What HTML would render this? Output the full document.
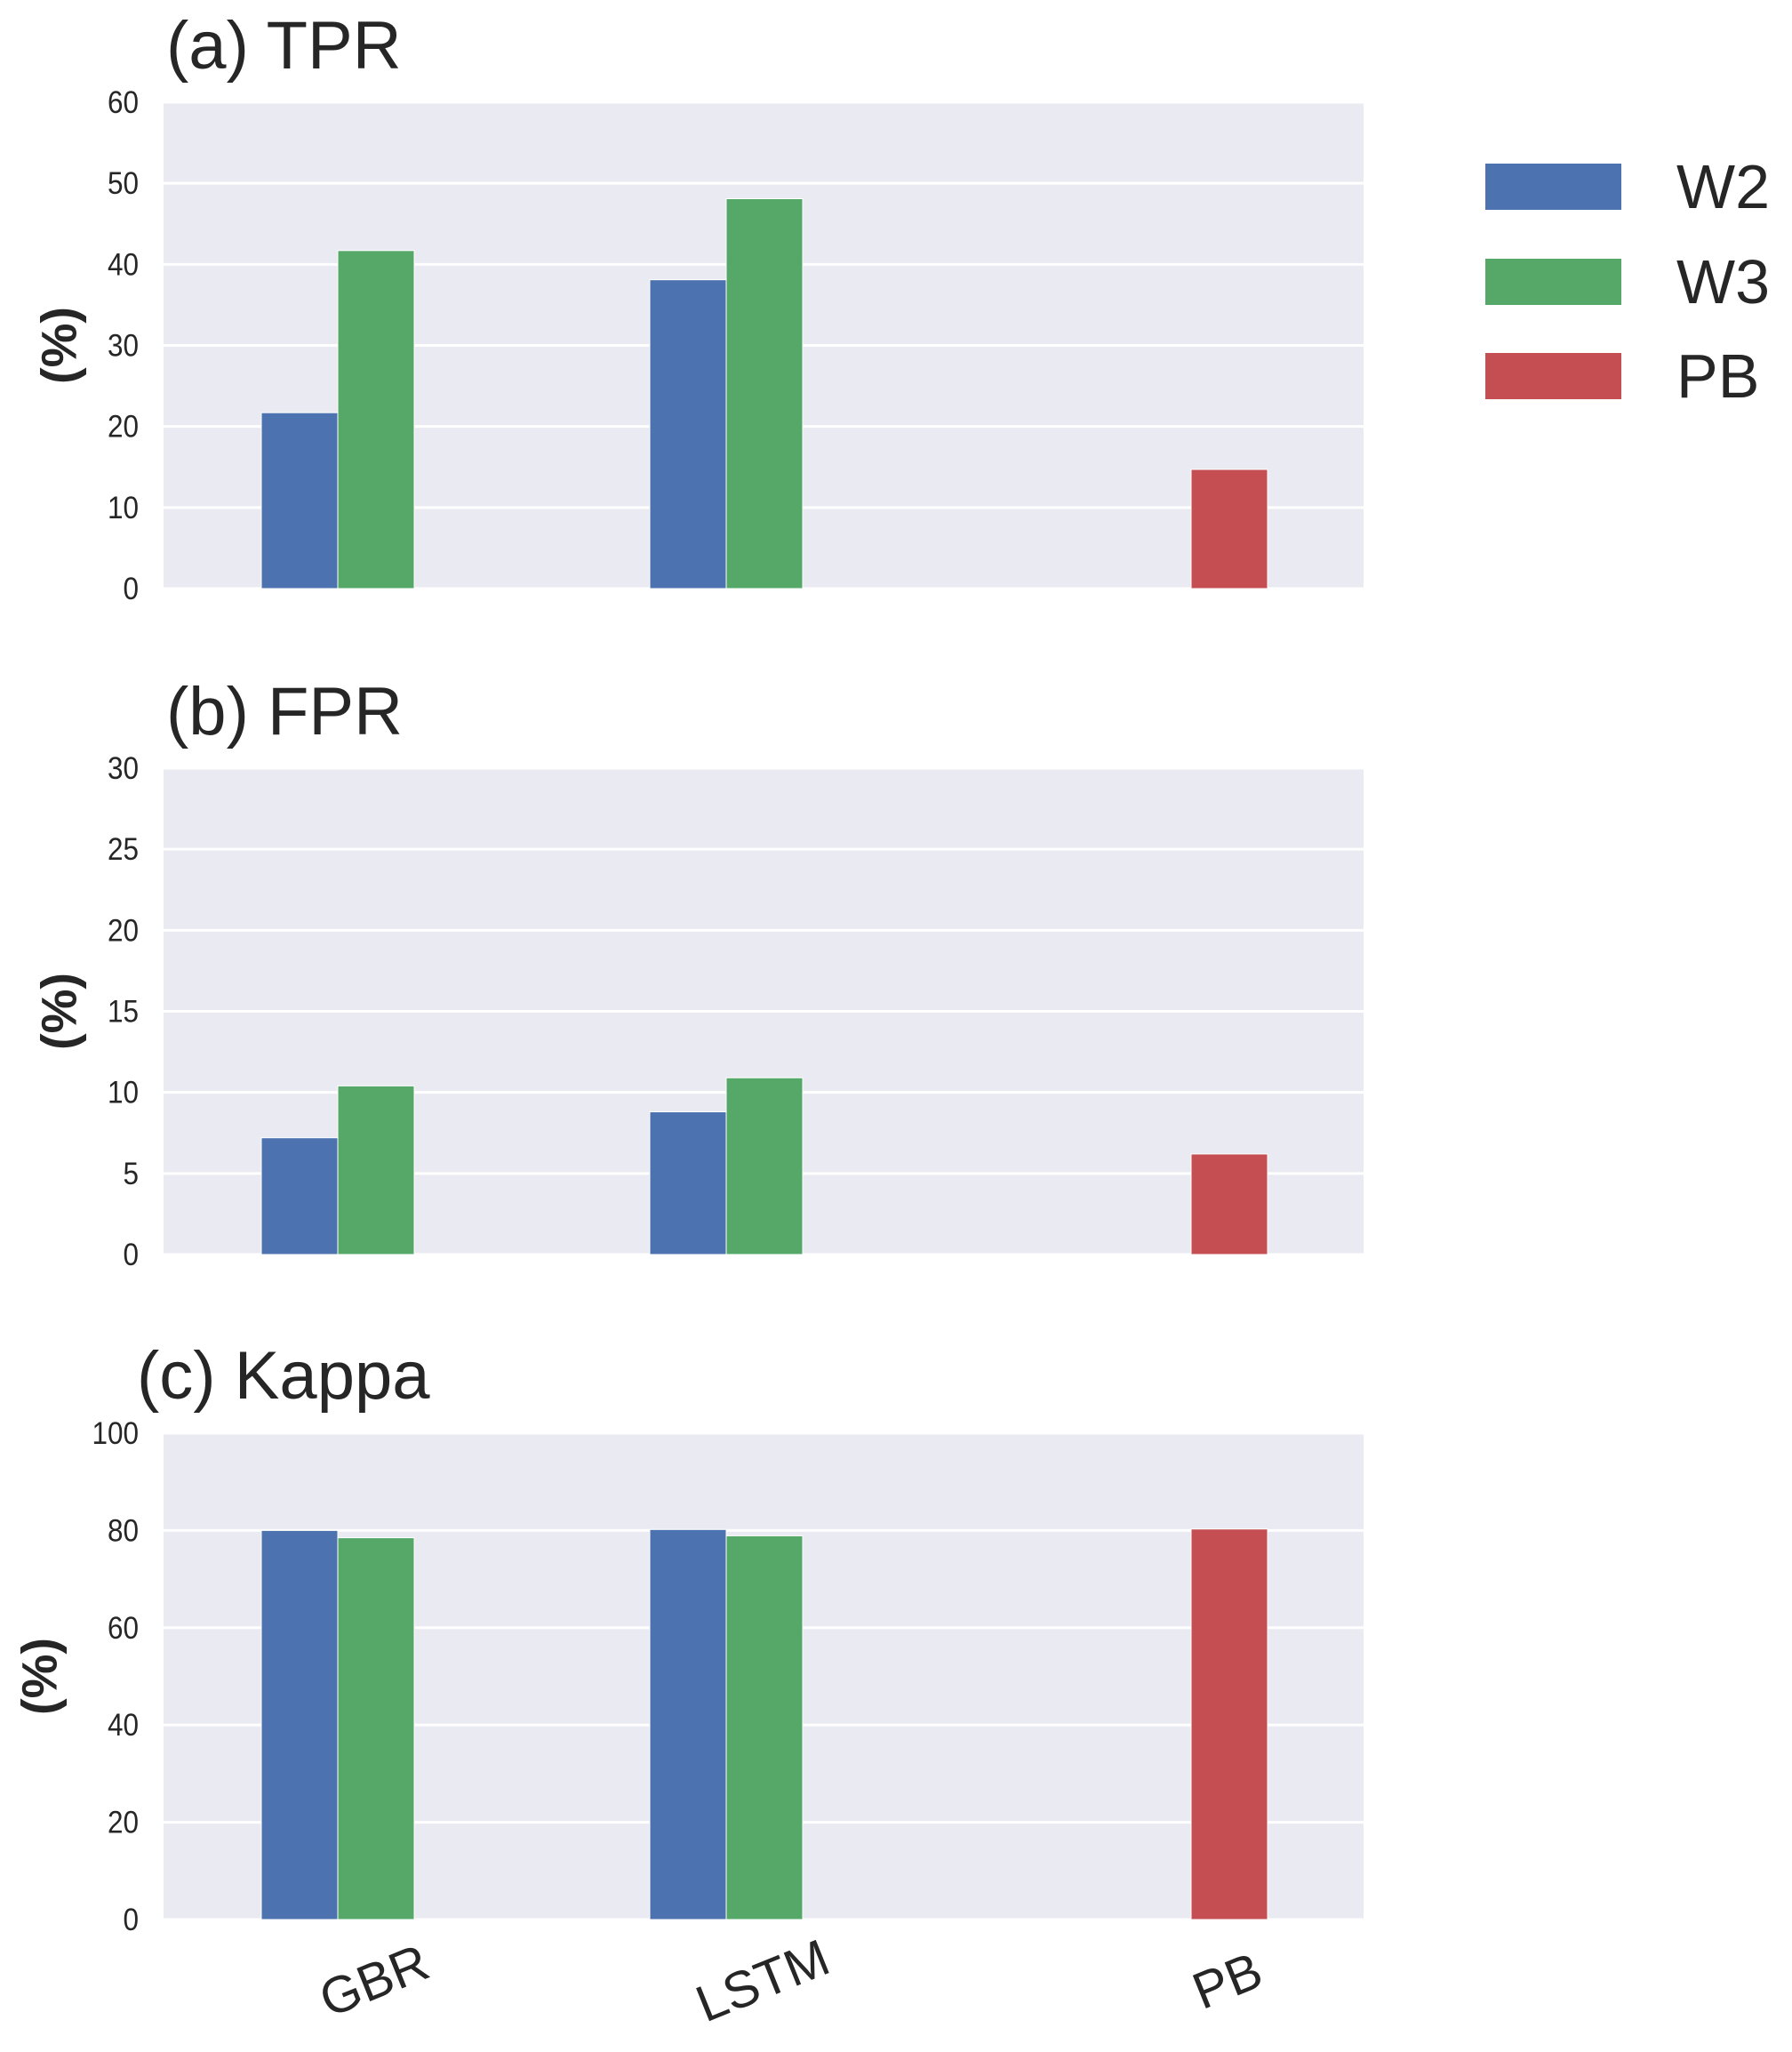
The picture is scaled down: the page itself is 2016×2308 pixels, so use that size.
<!DOCTYPE html>
<html><head><meta charset="utf-8"><style>
html,body{margin:0;padding:0;background:#fff;}
svg{display:block;font-family:"Liberation Sans",sans-serif;}
</style></head><body>
<svg id="chart" width="2016" height="2308" viewBox="0 0 2016 2308"></svg>
<script>
const categories = ["GBR", "LSTM", "PB"];
const seriesNames = ["W2", "W3", "PB"];
const tprW2 = [21.7, 38.1, null];
const tprW3 = [41.7, 48.1, null];
const tprPB = [null, null, 14.7];
const fprW2 = [7.2, 8.8, null];
const fprW3 = [10.4, 10.9, null];
const fprPB = [null, null, 6.2];
const kapW2 = [80.0, 80.2, null];
const kapW3 = [78.5, 78.9, null];
const kapPB = [null, null, 80.3];
const tprTicks = [0, 10, 20, 30, 40, 50, 60];
const fprTicks = [0, 5, 10, 15, 20, 25, 30];
const kapTicks = [0, 20, 40, 60, 80, 100];
const panelTitles = ["(a) TPR", "(b) FPR", "(c) Kappa"];

const colors = ["#4C72B0", "#55A868", "#C44E52"];
const NS = "http://www.w3.org/2000/svg";
const svg = document.getElementById("chart");
function mk(tag, attrs, parent) {
  const e = document.createElementNS(NS, tag);
  for (const k in attrs) e.setAttribute(k, attrs[k]);
  (parent || svg).appendChild(e);
  return e;
}
const L = 184, R = 1534, barW = 86, catStep = 437, firstLeft = 294;
function xLeft(ci, si) { return firstLeft + catStep * ci + barW * si; }

const panels = [
  {top: 115, bottom: 662, ticks: tprTicks, series: [tprW2, tprW3, tprPB], title: panelTitles[0], tx: 187, ty: 77, ylx: 66, key: "tpr"},
  {top: 864, bottom: 1411, ticks: fprTicks, series: [fprW2, fprW3, fprPB], title: panelTitles[1], tx: 187, ty: 826, ylx: 66, key: "fpr"},
  {top: 1612, bottom: 2159, ticks: kapTicks, series: [kapW2, kapW3, kapPB], title: panelTitles[2], tx: 154, ty: 1573, ylx: 44, key: "kappa"}
];

panels.forEach(p => {
  const g = mk("g", {});
  
  
  const maxV = p.ticks[p.ticks.length - 1];
  const y = v => p.bottom - (v / maxV) * (p.bottom - p.top);
  const bg = mk("rect", {x: L, y: p.top, width: R - L, height: p.bottom - p.top, fill: "#EAEAF2"}, g);
  
  
  p.ticks.forEach(t => {
    const gl = mk("line", {x1: L, x2: R, y1: y(t), y2: y(t), stroke: "#fff", "stroke-width": 3}, g);
    
    
    const tl = mk("text", {x: 156, y: y(t) + 12, "text-anchor": "end", "font-size": 35, fill: "#262626", transform: `translate(156 0) scale(0.9 1) translate(-156 0)`}, g);
    tl.textContent = t;
    
    
  });
  p.series.forEach((arr, si) => {
    arr.forEach((v, ci) => {
      if (v === null) return;
      const b = mk("rect", {x: xLeft(ci, si), y: y(v), width: barW, height: p.bottom - y(v), fill: colors[si], stroke: "#fff", "stroke-width": 1}, g);
      
      
    });
  });
  const title = mk("text", {x: p.tx, y: p.ty, "font-size": 76, fill: "#262626"}, g);
  title.textContent = p.title;
  
  
  const cy = (p.top + p.bottom) / 2;
  const yl = mk("text", {x: p.ylx, y: cy, "text-anchor": "middle", "dominant-baseline": "central", "font-size": 56, "font-weight": "bold", fill: "#262626", transform: `rotate(-90 ${p.ylx} ${cy})`}, g);
  yl.textContent = "(%)";
  
  
});

const labelSlot = [1, 1, 2];
categories.forEach((c, ci) => {
  const cx = xLeft(ci, labelSlot[ci]) + barW / 2 - 2, cy = 2228;
  const t = mk("text", {x: cx, y: cy, "text-anchor": "middle", "dominant-baseline": "central", "font-size": 58, fill: "#262626", transform: `rotate(-22 ${cx} ${cy})`});
  t.textContent = c;
  
  
});

const legY = [184, 291, 397];
seriesNames.forEach((n, i) => {
  const r = mk("rect", {x: 1671, y: legY[i], width: 153, height: 52, fill: colors[i]});
  
  
  const t = mk("text", {x: 1886, y: legY[i] + 50, "font-size": 70, fill: "#262626"});
  t.textContent = n;
  
  
});
</script>
</body></html>
